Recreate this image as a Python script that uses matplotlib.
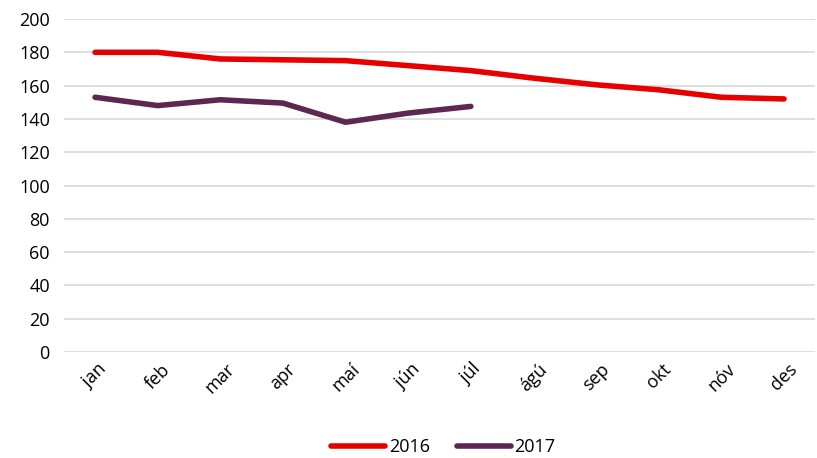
import matplotlib.pyplot as plt
import numpy as np

plt.rcParams['font.family'] = ['Open Sans', 'DejaVu Sans']

months = ['jan', 'feb', 'mar', 'apr', 'maí', 'jún', 'júl', 'ágú', 'sep', 'okt', 'nóv', 'des']
y2016 = [180, 180, 176, 175.5, 175, 172, 169, 164.5, 160.5, 157.5, 153, 152]
y2017 = [153, 148, 151.5, 149.5, 138, 143.5, 147.5]

fig = plt.figure(figsize=(8.17, 4.58), dpi=100)
ax = fig.add_axes([0.078, 0.2314, 0.92, 0.7271])

x = np.arange(len(months))
ax.plot(x, y2016, color='#E60000', lw=4, solid_capstyle='round', label='2016')
ax.plot(x[:len(y2017)], y2017, color='#5C2751', lw=4, solid_capstyle='round', label='2017')

ax.set_xlim(-0.5, 11.5)
ax.set_ylim(0, 200)
ax.set_yticks(range(0, 201, 20))
ax.set_xticks(x)
ax.set_xticklabels(months, rotation=45, ha='center', fontsize=13)
ax.tick_params(axis='y', labelsize=13, length=0, pad=10)
ax.tick_params(axis='x', length=0, pad=6)
ax.grid(axis='y', color='#D9D9D9', lw=1.2)
ax.set_axisbelow(True)
for s in ax.spines.values():
    s.set_visible(False)

ax.legend(loc='upper center', bbox_to_anchor=(0.505, -0.21), ncol=2, frameon=False,
          fontsize=13, handlelength=3.0, handletextpad=0.2, columnspacing=1.5)

fig.savefig('out.png', dpi=100)
